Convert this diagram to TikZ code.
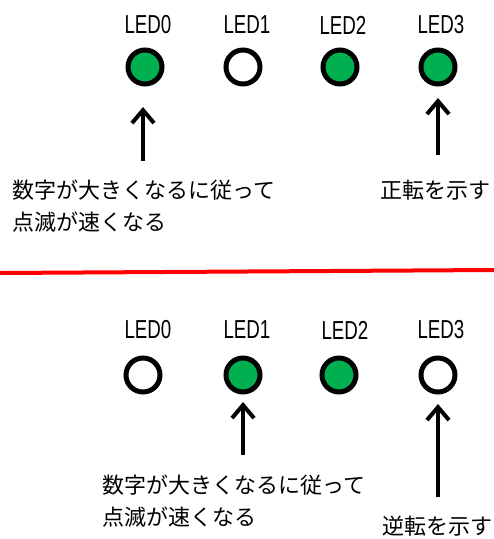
\documentclass[tikz,border=0pt]{standalone}
\usepackage{fontspec}
\setmainfont{Liberation Sans}
\newfontfamily\jpfont{Noto Sans CJK JP}
\usetikzlibrary{arrows.meta}
\definecolor{ledgreen}{RGB}{0,176,80}
\tikzset{
  ledlabel/.style={inner sep=0pt, font=\fontsize{26}{26}\selectfont},
  ledon/.style={circle, draw=black, line width=5pt, fill=ledgreen, minimum size=34pt, inner sep=0pt},
  ledoff/.style={circle, draw=black, line width=5pt, fill=white, minimum size=34pt, inner sep=0pt},
  arr/.style={line width=4pt, -{Straight Barb[length=13pt, width=22pt, line width=4pt]}},
  jptext/.style={inner sep=0pt, align=left, font=\jpfont\fontsize{22}{32}\selectfont},
}
\newcommand{\ledname}[1]{\scalebox{0.72}[1]{#1}}
\begin{document}
\begin{tikzpicture}[x=1pt,y=-1pt]
\useasboundingbox (0,0) rectangle (494,539);
% top panel
\node[ledlabel] (t0l) at (148,25) {\ledname{LED0}};
\node[ledlabel] (t1l) at (247,25) {\ledname{LED1}};
\node[ledlabel] (t2l) at (343,25) {\ledname{LED2}};
\node[ledlabel] (t3l) at (441,25) {\ledname{LED3}};
\node[ledon]  (t0) at (145,67) {};
\node[ledoff] (t1) at (243,67) {};
\node[ledon]  (t2) at (340,67) {};
\node[ledon]  (t3) at (438,67) {};
\coordinate (ta0s) at (143,161);
\coordinate (ta0e) at (143,107);
\coordinate (ta3s) at (438,155);
\coordinate (ta3e) at (438,98);
\draw[arr] (ta0s) -- (ta0e);
\draw[arr] (ta3s) -- (ta3e);
\node[jptext, anchor=north west] (ttext) at (12,180) {数字が大きくなるに従って\\点滅が速くなる};
\node[jptext, anchor=north west] (tdir) at (380,180) {正転を示す};
% separator
\coordinate (sepL) at (0,273);
\coordinate (sepR) at (494,270);
\draw[red, line width=4pt] (sepL) -- (sepR);
% bottom panel
\node[ledlabel] (b0l) at (148,330) {\ledname{LED0}};
\node[ledlabel] (b1l) at (247,330) {\ledname{LED1}};
\node[ledlabel] (b2l) at (345,330) {\ledname{LED2}};
\node[ledlabel] (b3l) at (441,330) {\ledname{LED3}};
\node[ledoff] (b0) at (143,375) {};
\node[ledon]  (b1) at (243,375) {};
\node[ledon]  (b2) at (339,375) {};
\node[ledoff] (b3) at (438,375) {};
\coordinate (ba1s) at (243,455);
\coordinate (ba1e) at (243,402);
\coordinate (ba3s) at (438,497);
\coordinate (ba3e) at (438,404);
\draw[arr] (ba1s) -- (ba1e);
\draw[arr] (ba3s) -- (ba3e);
\node[jptext, anchor=north west] (btext) at (102,475) {数字が大きくなるに従って\\点滅が速くなる};
\node[jptext, anchor=north west] (bdir) at (382,516) {逆転を示す};
\end{tikzpicture}
\end{document}
